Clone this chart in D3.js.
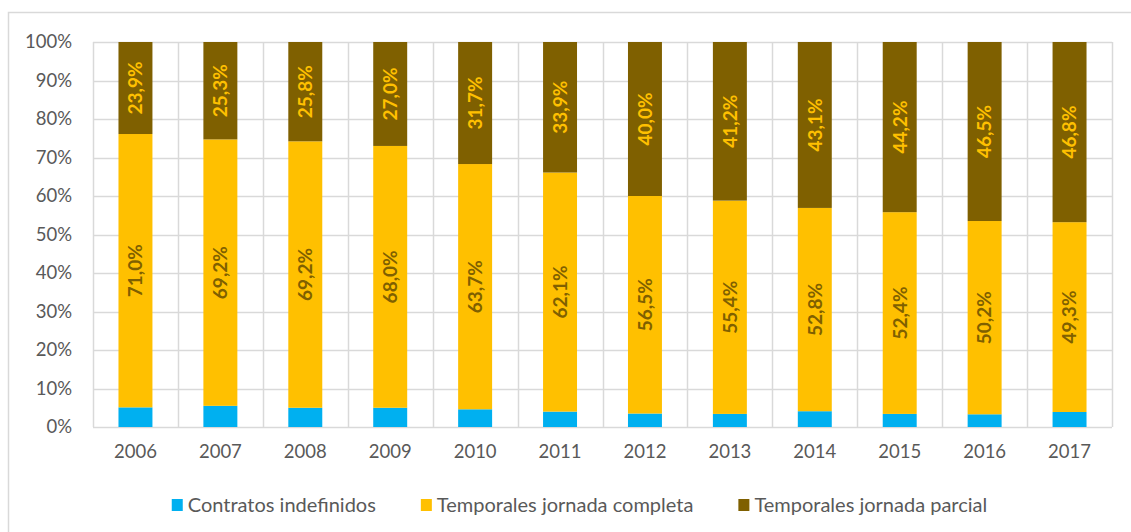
<!DOCTYPE html>
<html>
<head>
<meta charset="utf-8">
<script src="https://cdn.jsdelivr.net/npm/d3@7"></script>
<style>
  html, body { margin: 0; padding: 0; background: #fff; }
  svg { display: block; }
</style>
</head>
<body>
<svg id="chart" width="1131" height="532"></svg>
<script>
const years = ["2006","2007","2008","2009","2010","2011","2012","2013","2014","2015","2016","2017"];
const indefinidos = [5.1, 5.5, 5.0, 5.0, 4.6, 4.0, 3.5, 3.4, 4.1, 3.4, 3.3, 3.9];
const completa = [71.0, 69.2, 69.2, 68.0, 63.7, 62.1, 56.5, 55.4, 52.8, 52.4, 50.2, 49.3];
const parcial = [23.9, 25.3, 25.8, 27.0, 31.7, 33.9, 40.0, 41.2, 43.1, 44.2, 46.5, 46.8];
const seriesNames = ["Contratos indefinidos", "Temporales jornada completa", "Temporales jornada parcial"];
const seriesColors = ["#00B0F0", "#FFC000", "#7F6000"];
const labelColors = [null, "#7F6000", "#FFC000"];
const yTicks = [0, 10, 20, 30, 40, 50, 60, 70, 80, 90, 100];

const svg = d3.select("#chart");
const font = "Lato, 'Open Sans', sans-serif";
const textGray = "#595959";
const gridColor = "#D9D9D9";

// outer frame
svg.append("rect").attr("x", 8.5).attr("y", 12.5).attr("width", 1200).attr("height", 600)
  .attr("fill", "#fff").attr("stroke", gridColor).attr("stroke-width", 1.5);

const m = {left: 93, right: 1112, top: 42, bottom: 427};
const x = d3.scaleBand().domain(years).range([m.left, m.right]).paddingInner(0).paddingOuter(0);
const y = d3.scaleLinear().domain([0, 100]).range([m.bottom, m.top]);

const data = years.map((yr, i) => ({year: yr, a: indefinidos[i], b: completa[i], c: parcial[i]}));
const stack = d3.stack().keys(["a", "b", "c"]);
const stacked = stack(data);

// grid horizontal
const g = svg.append("g");
g.selectAll("line.h").data(yTicks).join("line")
  .attr("x1", m.left).attr("x2", m.right)
  .attr("y1", d => Math.round(y(d)) + 0.5).attr("y2", d => Math.round(y(d)) + 0.5)
  .attr("stroke", gridColor).attr("stroke-width", 1.5);
// grid vertical at band boundaries
const bounds = years.map(d => x(d)).concat([m.right]);
g.selectAll("line.v").data(bounds).join("line")
  .attr("x1", d => Math.round(d) + 0.5).attr("x2", d => Math.round(d) + 0.5)
  .attr("y1", m.top).attr("y2", m.bottom)
  .attr("stroke", gridColor).attr("stroke-width", 1.5);

// y axis labels
const yAxis = d3.axisLeft(y).tickValues(yTicks).tickFormat(d => d + "%").tickSize(0).tickPadding(21);
const ya = svg.append("g").attr("transform", `translate(${m.left},0)`).call(yAxis);
ya.select(".domain").remove();
ya.selectAll("text").attr("fill", textGray).style("font-family", font).style("font-size", "18.5px");

// x axis labels
const xAxis = d3.axisBottom(x).tickSize(0).tickPadding(18);
const xa = svg.append("g").attr("transform", `translate(0,${m.bottom})`).call(xAxis);
xa.select(".domain").remove();
xa.selectAll("text").attr("fill", textGray).style("font-family", font).style("font-size", "18.5px");

// bars
const barW = x.bandwidth() * 0.4;
const layers = svg.selectAll("g.layer").data(stacked).join("g").attr("class", "layer")
  .attr("fill", (d, i) => seriesColors[i]);
layers.selectAll("rect").data(d => d).join("rect")
  .attr("x", d => x(d.data.year) + (x.bandwidth() - barW) / 2)
  .attr("width", barW)
  .attr("y", d => y(d[1]))
  .attr("height", d => y(d[0]) - y(d[1]));

// labels
stacked.forEach((layer, li) => {
  if (!labelColors[li]) return;
  svg.append("g").selectAll("text").data(layer).join("text")
    .attr("transform", d => `translate(${x(d.data.year) + x.bandwidth() / 2},${(y(d[0]) + y(d[1])) / 2}) rotate(-90)`)
    .attr("text-anchor", "middle")
    .attr("dy", "0.36em")
    .attr("fill", labelColors[li])
    .style("font-family", font).style("font-size", "19px").style("font-weight", "bold")
    .text(d => (d[1] - d[0]).toFixed(1).replace(".", ",") + "%");
});

// legend
const leg = svg.append("g");
let cx = 0;
seriesNames.forEach((name, i) => {
  const it = leg.append("g");
  it.append("rect").attr("x", 0).attr("y", -6).attr("width", 11).attr("height", 12).attr("fill", seriesColors[i]);
  const t = it.append("text").attr("x", 16).attr("dy", "0.35em").attr("fill", textGray)
    .style("font-family", font).style("font-size", "20px").text(name);
  const w = 16 + t.node().getComputedTextLength();
  it.attr("transform", `translate(${cx},505)`);
  cx += w + 45;
});
const totalW = cx - 45;
leg.attr("transform", `translate(${579.5 - totalW / 2},0)`);
</script>
</body>
</html>
